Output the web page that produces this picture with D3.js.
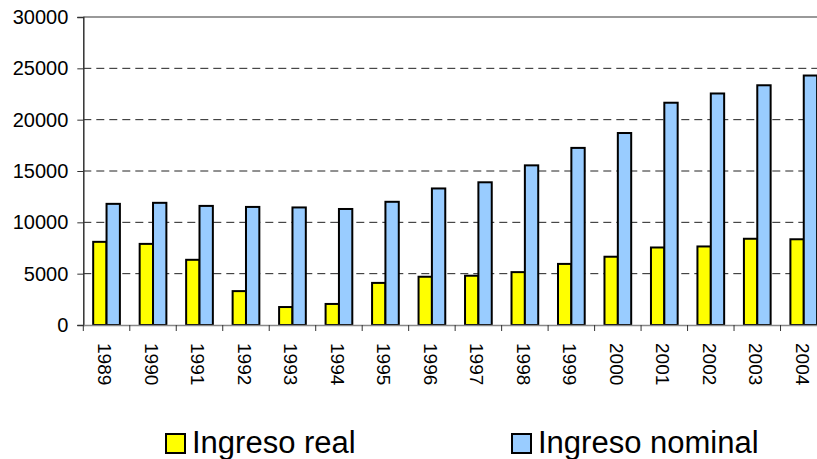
<!DOCTYPE html>
<html>
<head>
<meta charset="utf-8">
<script src="https://cdn.jsdelivr.net/npm/d3@7"></script>
<style>
  body { margin: 0; background: #fff; }
  svg { font-family: "Liberation Sans", Arial, sans-serif; }
</style>
</head>
<body>
<script>
// years on the x axis
var years = ["1989","1990","1991","1992","1993","1994","1995","1996",
             "1997","1998","1999","2000","2001","2002","2003","2004"];
// values
var real =    [8100, 7900, 6350, 3300, 1750, 2050, 4100, 4700,
               4800, 5150, 5950, 6650, 7550, 7650, 8400, 8350];
var nominal = [11800, 11900, 11600, 11500, 11450, 11300, 12000, 13300,
               13900, 15550, 17250, 18700, 21650, 22550, 23350, 24300];
var yTicks = [0, 5000, 10000, 15000, 20000, 25000, 30000];
var seriesNames = ["Ingreso real", "Ingreso nominal"];
var seriesColors = ["#ffff00", "#99ccff"];

var width = 817, height = 459;
var plotLeft = 83.3, plotRight = 827, plotTop = 17, plotBottom = 325;

var svg = d3.select("body").append("svg")
    .attr("width", width)
    .attr("height", height);

var x = d3.scaleBand()
    .domain(years)
    .range([plotLeft, plotRight])
    .padding(0);

var xs = d3.scaleBand()
    .domain(seriesNames)
    .range([0, x.bandwidth()])
    .paddingInner(0)
    .paddingOuter(0.74);

var y = d3.scaleLinear()
    .domain([0, 30000])
    .range([plotBottom, plotTop]);

// dashed gridlines
svg.append("g")
    .selectAll("line")
    .data(yTicks.filter(function(d){ return d > 0 && d < 30000; }))
    .enter().append("line")
    .attr("x1", plotLeft).attr("x2", width)
    .attr("y1", function(d){ return y(d); })
    .attr("y2", function(d){ return y(d); })
    .attr("stroke", "#222")
    .attr("stroke-width", 1)
    .attr("stroke-dasharray", "8,5");

// top border
svg.append("line")
    .attr("x1", plotLeft).attr("x2", width)
    .attr("y1", y(30000)).attr("y2", y(30000))
    .attr("stroke", "#999").attr("stroke-width", 2);

// y axis
var yAxis = d3.axisLeft(y).tickValues(yTicks).tickSize(6).tickPadding(9)
    .tickFormat(d3.format("d"));
var gy = svg.append("g")
    .attr("transform", "translate(" + plotLeft + ",0)")
    .call(yAxis);
gy.select(".domain").attr("stroke", "#333").attr("stroke-width", 1.5);
gy.selectAll(".tick line").attr("stroke", "#333");
gy.selectAll("text").style("font-size", "20px").attr("fill", "#000")
    .attr("font-family", "Liberation Sans, Arial, sans-serif");

// bars
var groups = svg.append("g")
    .selectAll("g")
    .data(years)
    .enter().append("g")
    .attr("transform", function(d){ return "translate(" + x(d) + ",0)"; });

groups.selectAll("rect")
    .data(function(d, i){ return [
        {s: seriesNames[0], v: real[i], c: seriesColors[0]},
        {s: seriesNames[1], v: nominal[i], c: seriesColors[1]}
    ]; })
    .enter().append("rect")
    .attr("x", function(d){ return xs(d.s); })
    .attr("width", xs.bandwidth())
    .attr("y", function(d){ return y(d.v); })
    .attr("height", function(d){ return plotBottom - y(d.v); })
    .attr("fill", function(d){ return d.c; })
    .attr("stroke", "#000")
    .attr("stroke-width", 2);

// x axis
var xAxis = d3.axisBottom(x).tickSize(0).tickPadding(0);
var gx = svg.append("g")
    .attr("transform", "translate(0," + plotBottom + ")")
    .call(xAxis);
gx.select(".domain").attr("stroke", "#888").attr("stroke-width", 1.5);
gx.selectAll(".tick text")
    .attr("transform", "translate(-1.5,18) rotate(90)")
    .attr("text-anchor", "start")
    .attr("dy", "0.35em")
    .attr("y", 0)
    .attr("x", 0)
    .style("font-size", "19px")
    .attr("fill", "#000")
    .attr("font-family", "Liberation Sans, Arial, sans-serif");

// category separator ticks
svg.append("g")
    .selectAll("line")
    .data(years)
    .enter().append("line")
    .attr("x1", function(d){ return x(d); })
    .attr("x2", function(d){ return x(d); })
    .attr("y1", plotBottom).attr("y2", plotBottom + 6)
    .attr("stroke", "#333");

// legend
var legendX = [166, 512];
var legend = svg.append("g")
    .selectAll("g")
    .data(seriesNames)
    .enter().append("g")
    .attr("transform", function(d, i){ return "translate(" + legendX[i] + ",434)"; });
legend.append("rect")
    .attr("width", 19).attr("height", 19)
    .attr("fill", function(d, i){ return seriesColors[i]; })
    .attr("stroke", "#000").attr("stroke-width", 2);
legend.append("text")
    .attr("x", 26).attr("y", 19)
    .style("font-size", "31px")
    .text(function(d){ return d; });
</script>
</body>
</html>
